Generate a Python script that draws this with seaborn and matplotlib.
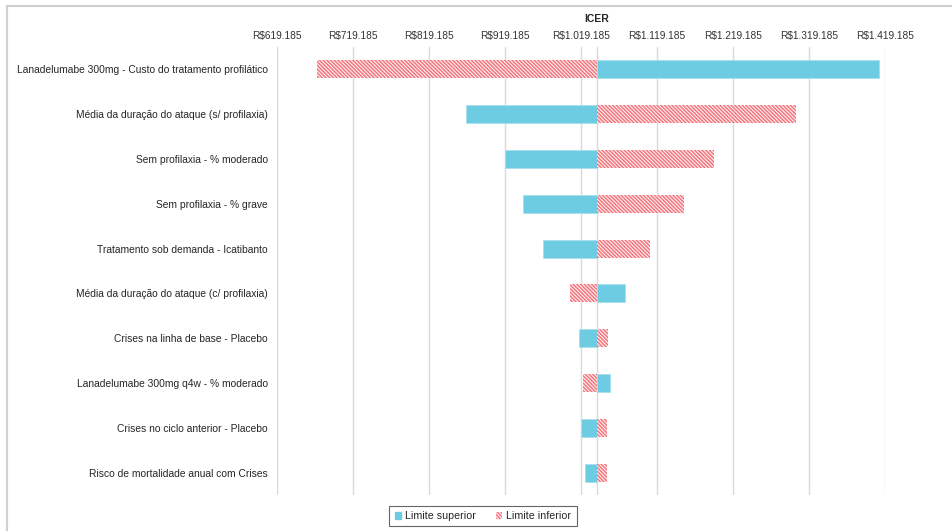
import numpy as np
import pandas as pd
import matplotlib
matplotlib.use("Agg")
import matplotlib.pyplot as plt
from matplotlib.lines import Line2D
import seaborn as sns

# dados do tornado (ICER em R$)
parametros = [
    "Lanadelumabe 300mg - Custo do tratamento profilático",
    "Média da duração do ataque (s/ profilaxia)",
    "Sem profilaxia - % moderado",
    "Sem profilaxia - % grave",
    "Tratamento sob demanda - Icatibanto",
    "Média da duração do ataque (c/ profilaxia)",
    "Crises na linha de base - Placebo",
    "Lanadelumabe 300mg q4w - % moderado",
    "Crises no ciclo anterior - Placebo",
    "Risco de mortalidade anual com Crises",
]
limite_superior = [1411300, 867500, 918700, 942300, 968600, 1077600, 1015900, 1057900, 1019800, 1023800]
limite_inferior = [671700, 1302300, 1194600, 1155100, 1110500, 1004100, 1055300, 1021200, 1054000, 1054000]
icer_base = 1040800
ticks_icer = [619185, 719185, 819185, 919185, 1019185, 1119185, 1219185, 1319185, 1419185]

df = pd.DataFrame({
    "parametro": parametros * 2,
    "serie": ["Limite superior"] * len(parametros) + ["Limite inferior"] * len(parametros),
    "icer": limite_superior + limite_inferior,
})
df["delta"] = df["icer"] - icer_base

sns.set_theme(style="white")
plt.rcParams["font.family"] = ["Liberation Sans", "DejaVu Sans"]
plt.rcParams["hatch.linewidth"] = 1.2

fig = plt.figure(figsize=(9.53, 5.31), dpi=100)
ax = fig.add_axes([277 / 953, 1 - 495 / 531, (885 - 277) / 953, (495 - 47) / 531])

azul = "#6ECCE2"
rosa = "#F47A82"
hachura = "\\" * 9
sns.barplot(data=df, y="parametro", x="delta", hue="serie", orient="h",
            hue_order=["Limite superior", "Limite inferior"],
            palette={"Limite superior": azul, "Limite inferior": "white"},
            saturation=1, dodge=False, width=0.4, legend=False, ax=ax, zorder=3)

for p in ax.containers[1]:
    p.set_hatch(hachura)
    p.set_edgecolor(rosa)
    p.set_linewidth(0)
for p in ax.containers[0]:
    p.set_edgecolor("#a8e0ee")
    p.set_linewidth(0.6)

deltas = [t - icer_base for t in ticks_icer]
ax.set_xlim(deltas[0], deltas[-1])
ax.set_xticks(deltas, ["R$" + f"{t:,.0f}".replace(",", ".") for t in ticks_icer])
ax.xaxis.tick_top()
ax.tick_params(axis="x", length=0, pad=4.5, labelsize=7.3, labelcolor="#333333")
ax.tick_params(axis="y", length=0, pad=6.5, labelsize=7.4, labelcolor="#262626")
for t in deltas:
    ax.axvline(t, color="#d9d9d9", lw=1, zorder=1)
ax.axvline(0, color="#d9d9d9", lw=1, zorder=1)
ax.set_xlabel("")
ax.set_ylabel("")
for s in ax.spines.values():
    s.set_visible(False)

fig.text(597 / 953, 1 - 19 / 531, "ICER", ha="center", va="center",
         fontsize=7.5, fontweight="bold", color="#262626")

handles = [plt.Rectangle((0, 0), 1, 1, facecolor=azul, edgecolor=azul),
           plt.Rectangle((0, 0), 1, 1, facecolor="white", edgecolor=rosa, hatch=hachura, linewidth=0)]
leg = fig.legend(handles, ["Limite superior", "Limite inferior"], loc="center",
                 bbox_to_anchor=(483 / 953, 1 - 516 / 531), ncol=2, fontsize=7.7,
                 fancybox=False, frameon=True, handlelength=0.6, handleheight=0.6,
                 handletextpad=0.4, columnspacing=1.8, borderpad=0.5)
leg.get_frame().set_edgecolor("#404040")
leg.get_frame().set_linewidth(0.8)

# borda da área do gráfico
fig.add_artist(Line2D([7 / 953, 7 / 953], [0, 1 - 6 / 531], color="#d0d0d0", lw=1.5))
fig.add_artist(Line2D([7 / 953, 1], [1 - 6 / 531, 1 - 6 / 531], color="#d0d0d0", lw=1.5))

fig.savefig("out.png", dpi=100)
